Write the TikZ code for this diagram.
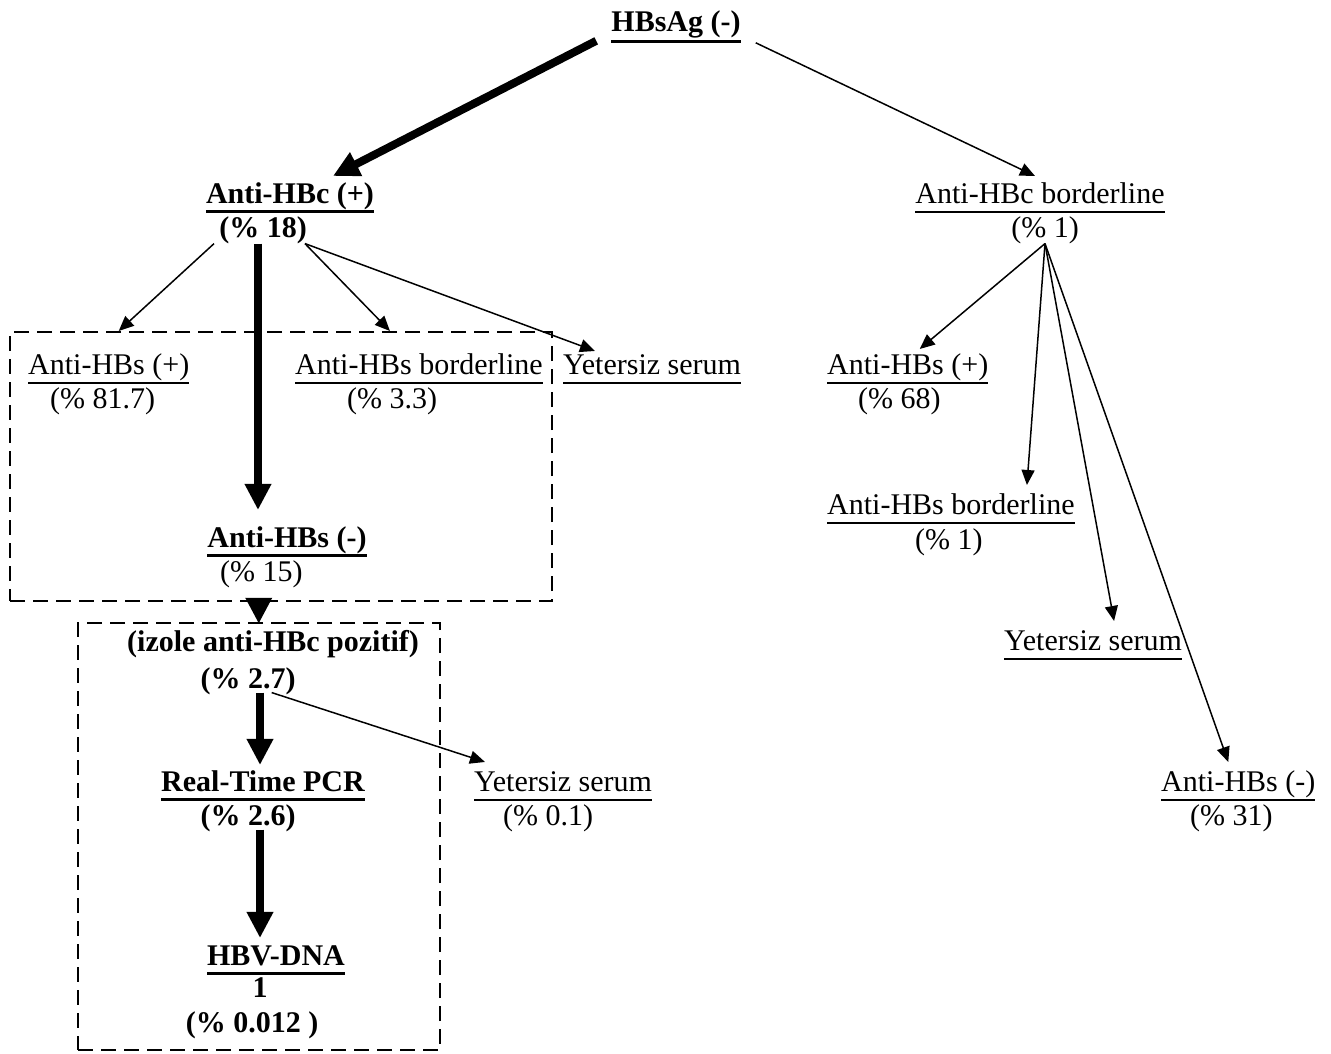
\documentclass[tikz,border=0pt]{standalone}
\usepackage{fontspec}
\setmainfont{Liberation Serif}
\usetikzlibrary{arrows.meta,calc}
\newcommand\ulb[1]{\vtop{\hbox{#1\vphantom{(}}\kern1pt\hrule height 3pt}}
\newcommand\uln[1]{\vtop{\hbox{#1\vphantom{(}}\kern1.5pt\hrule height 2pt}}
\begin{document}
\begin{tikzpicture}[x=1pt,y=-1pt,
  lbl/.style={inner sep=0pt, font=\fontsize{30}{34}\selectfont},
  lblb/.style={inner sep=0pt, font=\fontsize{30}{34}\selectfont\bfseries},
  thickarrow/.style={line width=8pt, -{Triangle[length=26pt,width=25pt]}},
  thinarrow/.style={line width=1.5pt, -{Triangle[length=15pt,width=13pt]}},
  dbox/.style={draw, line width=2.5pt, dash pattern=on 15pt off 8pt, inner sep=0pt}]
\useasboundingbox (0,0) rectangle (1331,1054);
% boxes
\node[dbox, minimum width=542pt, minimum height=269pt] (box1) at (281,466.5) {};
\node[dbox, minimum width=362pt, minimum height=427pt] (box2) at (259,836.5) {};
% top
\node[lblb, anchor=base] (hbsag) at (676,32) {\ulb{HBsAg (-)}};
\node[lblb, anchor=base] (hbcp) at (290,203) {\ulb{Anti-HBc (+)}};
\node[lblb, anchor=base] (hbcppct) at (263,237) {(\% 18)};
\node[lbl, anchor=base] (hbcb) at (1040,203) {\uln{Anti-HBc borderline}};
\node[lbl, anchor=base] (hbcbpct) at (1045,237) {(\% 1)};
% left branch
\node[lbl, anchor=base west] (lp) at (28,374) {\uln{Anti-HBs (+)}};
\node[lbl, anchor=base west] (lppct) at (50,408) {(\% 81.7)};
\node[lbl, anchor=base west] (lb) at (295,374) {\uln{Anti-HBs borderline}};
\node[lbl, anchor=base west] (lbpct) at (347,408) {(\% 3.3)};
\node[lbl, anchor=base west] (ly) at (563,374) {\uln{Yetersiz serum}};
\node[lblb, anchor=base] (ln) at (287,547) {\ulb{Anti-HBs (-)}};
\node[lbl, anchor=base west] (lnpct) at (220,581) {(\% 15)};
\node[lblb, anchor=base] (iz) at (273,651) {(izole anti-HBc pozitif)};
\node[lblb, anchor=base] (izpct) at (248,688) {(\% 2.7)};
\node[lblb, anchor=base] (rt) at (263,791) {\ulb{Real-Time PCR}};
\node[lblb, anchor=base] (rtpct) at (248,825) {(\% 2.6)};
\node[lblb, anchor=base] (hbv) at (276,965) {\ulb{HBV-DNA}};
\node[lblb, anchor=base] (hbvn) at (260,997) {1};
\node[lblb, anchor=base] (hbvpct) at (252,1032) {(\% 0.012 )};
\node[lbl, anchor=base west] (y2) at (474,791) {\uln{Yetersiz serum}};
\node[lbl, anchor=base west] (y2pct) at (503,825) {(\% 0.1)};
% right branch
\node[lbl, anchor=base west] (rp) at (827,374) {\uln{Anti-HBs (+)}};
\node[lbl, anchor=base west] (rppct) at (858,408) {(\% 68)};
\node[lbl, anchor=base west] (rb) at (827,514) {\uln{Anti-HBs borderline}};
\node[lbl, anchor=base west] (rbpct) at (915,549) {(\% 1)};
\node[lbl, anchor=base west] (ry) at (1004,650) {\uln{Yetersiz serum}};
\node[lbl, anchor=base west] (rn) at (1161,791) {\uln{Anti-HBs (-)}};
\node[lbl, anchor=base west] (rnpct) at (1190,825) {(\% 31)};
% connectors
\draw[thickarrow] ($(hbsag.south west)+(-15,-2)$) -- ($(hbcp.north)+(43,-6)$);
\draw[thinarrow] ($(hbsag.south east)+(15,0)$) -- ($(hbcb.north)+(-5,-6)$);
\draw[thinarrow] ($(hbcppct.south west)+(-5,0)$) -- ($(lp.north)+(10,-22)$);
\draw[thinarrow] ($(hbcppct.south east)+(-2,0)$) -- ($(lb.north)+(-29,-22)$);
\draw[thinarrow] ($(hbcppct.south east)+(-2,0)$) -- ($(ly.north west)+(32,-2)$);
\draw[thickarrow] ($(hbcppct.south)+(-5,0)$) -- ($(ln.north)+(-29,-16)$);
\draw[thickarrow] ($(box1.south west)+(250,-3)$) -- ($(box2.north west)+(182,2)$);
\draw[thickarrow] ($(izpct.south)+(12,-2)$) -- ($(rt.north)+(-3,-5)$);
\draw[thinarrow] ($(izpct.south east)+(-24,-2)$) -- ($(y2.north west)+(11,-8)$);
\draw[thickarrow] ($(rtpct.south)+(12,-2)$) -- ($(hbv.north)+(-16,-6)$);
\draw[thinarrow] (hbcbpct.south) -- ($(rp.north)+(12,-4)$);
\draw[thinarrow] (hbcbpct.south) -- ($(rb.north)+(76,-8)$);
\draw[thinarrow] (hbcbpct.south) -- ($(ry.north)+(21,-8)$);
\draw[thinarrow] (hbcbpct.south) -- ($(rn.north)+(-10,-8)$);
\end{tikzpicture}
\end{document}
